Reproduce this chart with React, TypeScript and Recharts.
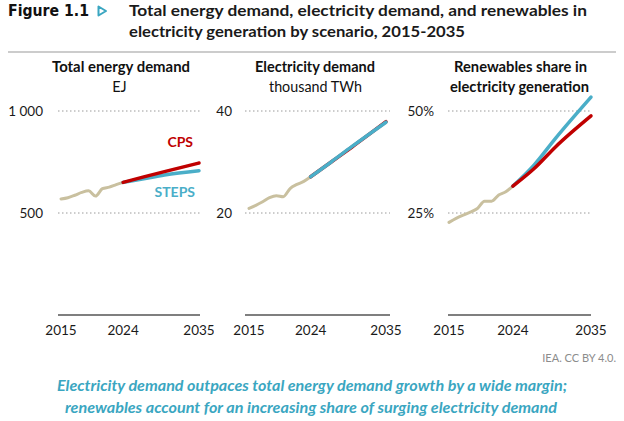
import React from 'react';
import { LineChart, Line, XAxis, YAxis, CartesianGrid } from 'recharts';

// ---------- data ----------
const histYears = [2015, 2016, 2017, 2018, 2019, 2020, 2021, 2022, 2023, 2024];
const projYears = [2024, 2027, 2030, 2035];
const xTicks = [2015, 2024, 2035];

const energyHist = [569, 575, 587, 601, 609, 583, 619, 627, 639, 650];
const energyCPS = [650, 677, 703, 745];
const energySTEPS = [650, 668, 686, 707];

const elecHist = [20.9, 21.5, 22.2, 23.0, 23.4, 23.2, 24.8, 25.6, 26.2, 27.1];
const elecCPS = [27.1, 30.0, 32.9, 37.9];
const elecSTEPS = [27.1, 30.0, 33.0, 37.8];

const renHist = [22.7, 23.7, 24.5, 25.2, 26.1, 27.9, 27.9, 29.4, 30.2, 31.6];
const renCPS = [31.6, 35.9, 41.2, 48.8];
const renSTEPS = [31.6, 36.8, 43.3, 53.4];

const energyTicks = [500, 1000];
const elecTicks = [20, 40];
const renTicks = [25, 50];

// ---------- helpers ----------
function buildRows(hist: number[], cps: number[], steps: number[]) {
  const yrs = Array.from(new Set([...histYears, ...projYears])).sort((a, b) => a - b);
  return yrs.map((y) => {
    const hi = histYears.indexOf(y);
    const pi = projYears.indexOf(y);
    return {
      year: y,
      hist: hi >= 0 ? hist[hi] : undefined,
      cps: pi >= 0 ? cps[pi] : undefined,
      steps: pi >= 0 ? steps[pi] : undefined,
    };
  });
}

const HIST = '#c9c09f';
const RED = '#c00000';
const BLUE = '#4aaec8';
const TEAL = '#3aa6c1';
const TICK_FONT = 'Lato, "Open Sans", sans-serif';

type PanelProps = {
  left: number;
  width: number;
  yWidth: number;
  tickMargin: number;
  marginRight: number;
  domainMax: number;
  yTicks: number[];
  fmt: (v: number) => string;
  rows: any[];
  padL: number;
  padR: number;
  blueOnTop: boolean;
};

function Panel(p: PanelProps) {
  const cpsLine = (
    <Line
      key="cps"
      type="monotone"
      dataKey="cps"
      stroke={RED}
      strokeWidth={3.5}
      dot={false}
      isAnimationActive={false}
      strokeLinecap="round"
    />
  );
  const stepsLine = (
    <Line
      key="steps"
      type="monotone"
      dataKey="steps"
      stroke={BLUE}
      strokeWidth={3.5}
      dot={false}
      isAnimationActive={false}
      strokeLinecap="round"
    />
  );
  return (
    <div style={{ position: 'absolute', left: p.left, top: 80 }}>
      <LineChart
        width={p.width}
        height={265}
        data={p.rows}
        margin={{ top: 10.6, right: p.marginRight, bottom: 0, left: 0 }}
      >
        <CartesianGrid
          vertical={false}
          horizontalValues={p.yTicks}
          stroke="#9a9a9a"
          strokeDasharray="1.5 2.5"
          strokeWidth={1}
        />
        <XAxis
          type="number"
          dataKey="year"
          domain={[2015, 2035]}
          ticks={xTicks}
          interval={0}
          tickLine={false}
          tickSize={0}
          tickMargin={10.4}
          axisLine={{ stroke: '#555', strokeWidth: 1.5 }}
          padding={{ left: p.padL, right: p.padR }}
          height={30}
          tick={{ fill: '#1a1a1a', fontSize: 13.5, fontFamily: TICK_FONT }}
        />
        <YAxis
          type="number"
          domain={[0, p.domainMax]}
          ticks={p.yTicks}
          interval={0}
          axisLine={false}
          tickLine={false}
          tickSize={0}
          tickMargin={p.tickMargin}
          width={p.yWidth}
          tickFormatter={p.fmt}
          tick={{ fill: '#1a1a1a', fontSize: 13.5, fontFamily: TICK_FONT }}
        />
        <Line
          type="monotone"
          dataKey="hist"
          stroke={HIST}
          strokeWidth={3}
          dot={false}
          isAnimationActive={false}
          strokeLinecap="round"
        />
        {p.blueOnTop ? [cpsLine, stepsLine] : [stepsLine, cpsLine]}
      </LineChart>
    </div>
  );
}

const TITLE_FONT = 'Lato, "Open Sans", sans-serif';

export default function App() {
  const energyRows = buildRows(energyHist, energyCPS, energySTEPS);
  const elecRows = buildRows(elecHist, elecCPS, elecSTEPS);
  const renRows = buildRows(renHist, renCPS, renSTEPS);

  return (
    <div
      style={{
        position: 'absolute',
        left: 0,
        top: 0,
        width: 624,
        height: 421,
        background: '#fff',
        overflow: 'hidden',
      }}
    >
      <svg width={624} height={421} style={{ position: 'absolute', left: 0, top: 0 }}>
        {/* Title */}
        <text
          x={8}
          y={16}
          fontFamily='"DejaVu Sans", sans-serif'
          fontWeight={700}
          fontSize={15}
          fill="#111"
          textLength={81}
          lengthAdjust="spacingAndGlyphs"
        >
          Figure 1.1
        </text>
        <polygon points="98.5,6.5 98.5,15.5 106,11" fill="#fff" stroke={TEAL} strokeWidth={2} strokeLinejoin="round" />
        <text
          x={129}
          y={16}
          fontFamily={TITLE_FONT}
          fontWeight={700}
          fontSize={15}
          fill="#1a1a1a"
          textLength={458}
          lengthAdjust="spacingAndGlyphs"
        >
          Total energy demand, electricity demand, and renewables in
        </text>
        <text
          x={129}
          y={37}
          fontFamily={TITLE_FONT}
          fontWeight={700}
          fontSize={15}
          fill="#1a1a1a"
          textLength={336}
          lengthAdjust="spacingAndGlyphs"
        >
          electricity generation by scenario, 2015-2035
        </text>
        <line x1={8} x2={616} y1={52} y2={52} stroke="#9a9a9a" strokeWidth={1.2} />

        {/* Panel subtitles */}
        <g fontFamily={TICK_FONT} fontSize={14.5} fill="#111" textAnchor="middle">
          <text x={121} y={71.7} fontWeight={700} textLength={138} lengthAdjust="spacingAndGlyphs">
            Total energy demand
          </text>
          <text x={119.5} y={91.7}>EJ</text>
          <text x={315} y={71.7} fontWeight={700} textLength={120} lengthAdjust="spacingAndGlyphs">
            Electricity demand
          </text>
          <text x={315.5} y={91.7} textLength={93} lengthAdjust="spacingAndGlyphs">
            thousand TWh
          </text>
          <text x={520.5} y={71.7} fontWeight={700} textLength={133} lengthAdjust="spacingAndGlyphs">
            Renewables share in
          </text>
          <text x={519.5} y={91.7} fontWeight={700} textLength={139} lengthAdjust="spacingAndGlyphs">
            electricity generation
          </text>
        </g>

        {/* Scenario labels */}
        <text x={193} y={146.7} textAnchor="end" fontFamily={TICK_FONT} fontWeight={700} fontSize={14} fill={RED}>
          CPS
        </text>
        <text x={195} y={196.7} textAnchor="end" fontFamily={TICK_FONT} fontWeight={700} fontSize={14} fill={BLUE}>
          STEPS
        </text>

        {/* Source */}
        <text x={616} y={361.7} textAnchor="end" fontFamily={TICK_FONT} fontSize={11} fill="#8c8c8c">
          IEA. CC BY 4.0.
        </text>

        {/* Caption */}
        <g fontFamily={TITLE_FONT} fontStyle="italic" fontWeight={700} fontSize={14.5} fill={TEAL} textAnchor="middle">
          <text x={312} y={391} textLength={510} lengthAdjust="spacingAndGlyphs">
            Electricity demand outpaces total energy demand growth by a wide margin;
          </text>
          <text x={311} y={413} textLength={492} lengthAdjust="spacingAndGlyphs">
            renewables account for an increasing share of surging electricity demand
          </text>
        </g>
      </svg>

      <Panel
        left={0}
        width={214}
        yWidth={58}
        tickMargin={15}
        marginRight={14}
        domainMax={1100}
        yTicks={energyTicks}
        fmt={(v) => (v === 1000 ? '1 000' : String(v))}
        rows={energyRows}
        padL={3}
        padR={1}
        blueOnTop={false}
      />
      <Panel
        left={214}
        width={190}
        yWidth={31}
        tickMargin={13}
        marginRight={14}
        domainMax={44}
        yTicks={elecTicks}
        fmt={(v) => String(v)}
        rows={elecRows}
        padL={4}
        padR={4}
        blueOnTop={true}
      />
      <Panel
        left={404}
        width={207}
        yWidth={44}
        tickMargin={14}
        marginRight={20}
        domainMax={55}
        yTicks={renTicks}
        fmt={(v) => `${v}%`}
        rows={renRows}
        padL={1}
        padR={0}
        blueOnTop={false}
      />
    </div>
  );
}
